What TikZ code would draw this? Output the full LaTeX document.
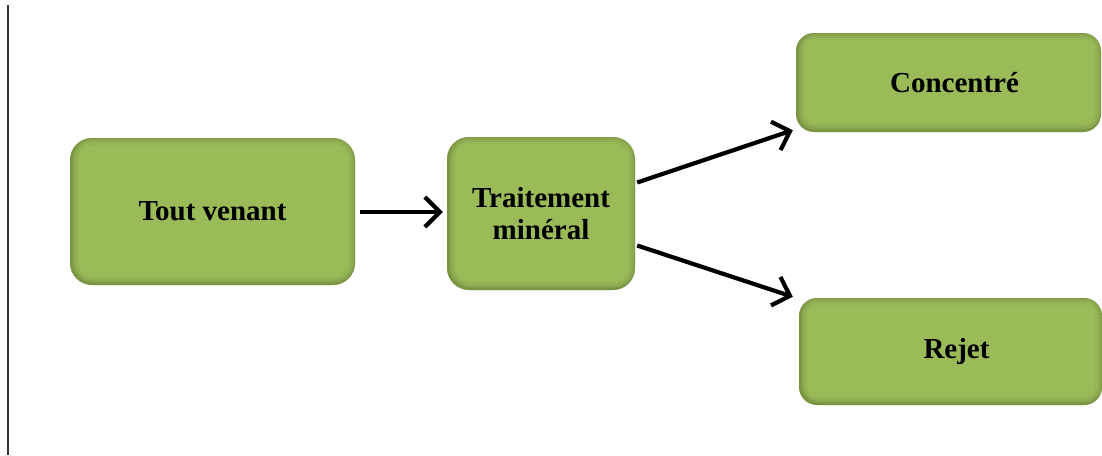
\documentclass[tikz,border=0pt]{standalone}
\usepackage{fontspec}
\setmainfont{Liberation Serif}
\usetikzlibrary{arrows.meta,calc}
\definecolor{boxgreen}{HTML}{9BBB59}
\definecolor{shadegreen}{HTML}{4F6228}
\tikzset{
  greenbox/.style={draw=none, fill=boxgreen, rounded corners=#1, inner sep=0pt,
    align=center, font=\bfseries\fontsize{29}{32}\selectfont, text=black,
    path picture={
      \foreach \w/\o in {16/0.06,11/0.08,7/0.1,4/0.12,2/0.15}{
        \draw[line width=\w pt, draw=shadegreen, opacity=\o, rounded corners=#1]
          ([shift={(1pt,1pt)}]path picture bounding box.south west) rectangle
          ([shift={(1pt,1pt)}]path picture bounding box.north east);
      }
    }},
  flow/.style={line width=4.2pt, -{Straight Barb[length=15pt,width=30pt,line width=4.2pt]}}
}
\begin{document}
\begin{tikzpicture}[x=1pt,y=-1pt]
\useasboundingbox (0,0) rectangle (1102,455);
\fill[white] (0,0) rectangle (1102,455);
\draw[line width=2pt, black!80] (8,5) -- (8,455);

\node[greenbox=22pt, minimum width=285pt, minimum height=147pt] (tv) at (212.5,211.5) {Tout venant};
\node[greenbox=22pt, minimum width=188pt, minimum height=153pt] (tm) at (541,213.5) {Traitement\\min\'eral};
\node[greenbox=18pt, minimum width=305pt, minimum height=99pt] (conc) at (948.5,82.5) {\hspace{12pt}Concentr\'e};
\node[greenbox=18pt, minimum width=303pt, minimum height=107pt] (rej) at (950.5,351.5) {\hspace{12pt}Rejet};

\draw[flow] ($(tv.east)+(5,0.5)$) -- ($(tm.west)+(-4,-1.5)$);
\draw[flow] ($(tm.east)+(2,-31)$) -- ($(conc.south west)+(-3,-2)$);
\draw[flow] ($(tm.east)+(2,32)$) -- ($(rej.north west)+(-6,-1)$);
\end{tikzpicture}
\end{document}
